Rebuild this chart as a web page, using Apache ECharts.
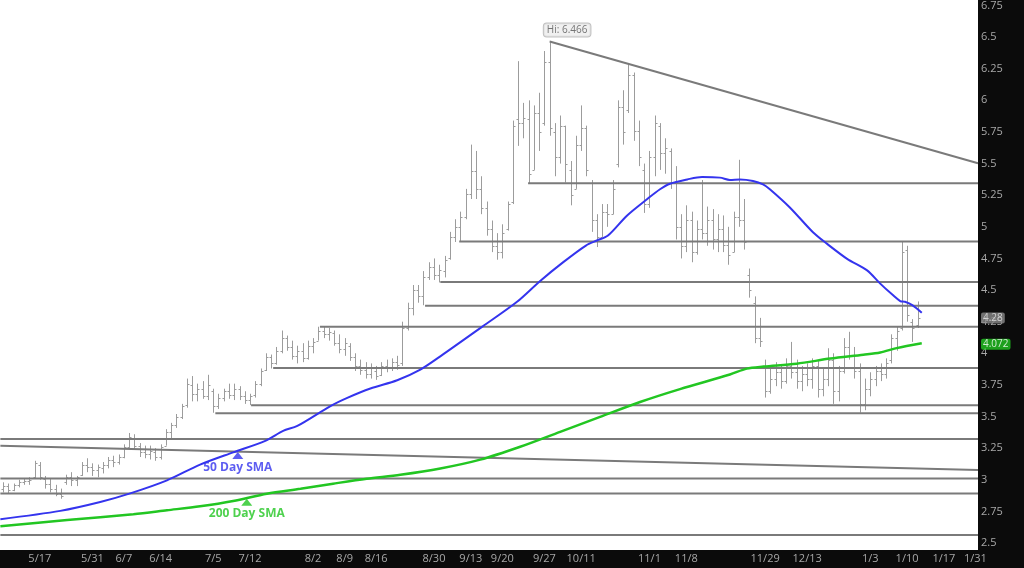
<!DOCTYPE html>
<html><head><meta charset="utf-8">
<script src="https://cdn.jsdelivr.net/npm/echarts@6/dist/echarts.min.js"></script>
<style>html,body{margin:0;padding:0;background:#0b0b0b;}#c{width:1024px;height:568px;}</style>
</head><body><div id="c"></div>
<script>
// ---- data ----
const tickLabels = ['5/17','5/31','6/7','6/14','7/5','7/12','8/2','8/9','8/16','8/30','9/13','9/20','9/27','10/11','11/1','11/8','11/29','12/13','1/3','1/10','1/17','1/31'];
const tickBars   = [7,17,23,30,40,47,59,65,71,82,89,95,103,110,123,130,145,153,165,172,179,185];
const slotCount = 186;

const open = [2.93,2.95,2.92,2.96,2.98,2.99,3.02,3.12,3.01,2.97, 2.93,2.89,2.98,3.02,3.00,3.04,3.12,3.10,3.08,3.09, 3.12,3.16,3.14,3.18,3.26,3.33,3.27,3.22,3.20,3.22, 3.18,3.27,3.38,3.43,3.50,3.59,3.75,3.68,3.72,3.66, 3.70,3.58,3.65,3.70,3.67,3.72,3.66,3.63,3.67,3.76, 3.87,3.97,3.92,4.02,4.12,4.05,3.98,4.02,3.96,4.06, 4.10,4.18,4.15,4.16,4.08,4.03,4.06,3.97,3.90,3.87, 3.84,3.86,3.83,3.90,3.88,3.93,3.92,4.20,4.36,4.50, 4.45,4.60,4.68,4.62,4.65,4.75,4.92,5.00,5.08,5.26, 5.44,5.30,5.15,4.98,4.85,4.80,4.98,5.20,5.85,5.82, 5.85,5.45,5.90,5.82,6.30,5.75,5.55,5.80,5.45,5.30, 5.65,5.78,5.35,5.05,4.92,5.12,5.10,5.50,5.95,5.92, 6.20,5.76,5.45,5.18,5.55,5.80,5.58,5.60,5.35,5.00, 4.85,5.05,4.80,4.98,4.95,5.05,4.90,4.98,4.86,4.80, 5.08,5.05,4.62,4.40,4.12,3.90,3.70,3.80,3.85,3.78, 3.90,3.85,3.78,3.84,3.80,3.90,3.72,3.80,3.95,3.70, 3.86,4.05,3.98,3.86,3.60,3.72,3.80,3.86,3.84,3.95, 4.12,4.20,4.82,4.25,4.22];
const high = [2.98,2.97,2.97,3.00,3.01,3.02,3.15,3.14,3.03,3.01, 2.96,2.93,3.04,3.06,3.03,3.14,3.17,3.13,3.12,3.14, 3.18,3.19,3.20,3.28,3.37,3.36,3.29,3.27,3.27,3.25, 3.28,3.40,3.45,3.52,3.60,3.80,3.82,3.76,3.78,3.83, 3.72,3.68,3.72,3.76,3.76,3.74,3.70,3.68,3.78,3.88, 4.00,3.99,4.05,4.18,4.14,4.10,4.06,4.08,4.10,4.12, 4.21,4.21,4.20,4.18,4.15,4.12,4.08,4.00,3.95,3.93, 3.92,3.90,3.93,3.95,3.96,3.98,4.25,4.40,4.54,4.54, 4.65,4.72,4.75,4.70,4.77,4.96,5.06,5.12,5.30,5.65, 5.60,5.40,5.20,5.05,4.95,5.02,5.20,5.84,6.31,5.98, 6.00,5.96,6.06,6.39,6.466,5.82,5.88,5.80,5.52,5.72, 5.96,5.80,5.37,5.10,5.18,5.18,5.37,6.00,6.08,6.28, 6.22,5.84,5.50,5.60,5.88,5.82,5.70,5.62,5.48,5.10, 5.17,5.12,5.05,5.37,5.16,5.14,5.10,5.09,5.00,5.12, 5.53,5.22,4.67,4.45,4.28,3.95,3.88,3.93,3.90,3.96, 4.09,3.95,3.90,3.92,3.96,3.94,3.88,4.04,4.00,3.90, 4.12,4.17,4.05,3.92,3.80,3.85,3.90,3.92,3.96,4.15, 4.21,4.88,4.85,4.27,4.41];
const low = [2.90,2.89,2.91,2.94,2.96,2.96,3.01,3.00,2.93,2.90, 2.87,2.85,2.96,2.95,2.95,3.03,3.06,3.03,3.02,3.05, 3.09,3.10,3.12,3.17,3.25,3.24,3.18,3.17,3.16,3.15, 3.16,3.27,3.33,3.41,3.48,3.57,3.62,3.62,3.64,3.63, 3.53,3.56,3.62,3.64,3.63,3.63,3.60,3.59,3.65,3.74, 3.86,3.88,3.91,4.00,4.02,3.95,3.92,3.93,3.95,4.00, 4.10,4.12,4.10,4.06,4.00,3.98,3.94,3.86,3.83,3.80, 3.80,3.79,3.82,3.85,3.86,3.87,3.90,4.18,4.30,4.40, 4.38,4.58,4.58,4.56,4.60,4.74,4.88,4.88,5.06,5.22, 5.22,5.10,4.93,4.80,4.74,4.75,4.97,5.18,5.64,5.70, 5.345,5.45,5.60,5.80,5.72,5.40,5.50,5.35,5.17,5.30, 5.60,5.40,4.96,4.84,4.92,5.00,5.10,5.47,5.65,5.90, 5.68,5.48,5.11,5.15,5.40,5.45,5.42,5.30,4.90,4.75, 4.80,4.72,4.78,4.90,4.85,4.82,4.80,4.80,4.70,4.80, 5.00,4.82,4.44,4.08,4.05,3.65,3.68,3.74,3.72,3.76, 3.80,3.72,3.70,3.74,3.72,3.65,3.66,3.74,3.60,3.62, 3.84,3.95,3.80,3.53,3.55,3.66,3.74,3.78,3.80,3.92, 4.02,4.18,4.25,4.09,4.20];
const close = [2.95,2.92,2.96,2.98,2.99,3.00,3.13,3.02,2.97,2.93, 2.89,2.87,3.02,3.00,3.02,3.12,3.10,3.08,3.10,3.12, 3.16,3.14,3.18,3.26,3.34,3.27,3.22,3.20,3.23,3.18, 3.26,3.38,3.43,3.50,3.58,3.76,3.68,3.72,3.66,3.75, 3.58,3.65,3.70,3.67,3.72,3.66,3.63,3.66,3.76,3.86, 3.97,3.92,4.02,4.12,4.05,3.98,4.02,3.96,4.06,4.09, 4.18,4.15,4.17,4.08,4.03,4.08,3.97,3.90,3.87,3.84, 3.88,3.82,3.90,3.88,3.93,3.91,4.20,4.36,4.50,4.45, 4.60,4.68,4.62,4.66,4.74,4.92,5.00,5.08,5.26,5.44, 5.30,5.15,4.98,4.85,4.80,4.95,5.18,5.80,5.82,5.86, 5.42,5.90,5.75,6.30,5.78,5.55,5.80,5.50,5.25,5.65, 5.78,5.45,5.05,4.92,5.12,5.10,5.30,5.95,5.75,6.20, 5.76,5.55,5.18,5.55,5.82,5.58,5.62,5.35,5.00,4.85, 5.05,4.80,4.98,4.95,5.05,4.90,4.98,4.86,4.78,5.08, 5.05,4.88,4.50,4.12,4.10,3.70,3.80,3.85,3.78,3.90, 3.85,3.78,3.84,3.80,3.90,3.72,3.80,3.95,3.70,3.86, 4.05,3.98,3.86,3.60,3.72,3.80,3.86,3.84,3.92,4.12, 4.18,4.80,4.30,4.20,4.28];

// 50-day and 200-day SMA readings: [bar position, value]
const sma50 = [[-0.5,2.688],[10.9,2.754],[18.5,2.824],[24.2,2.892],[31.2,2.995],[37.5,3.120],[43.8,3.217],[49.9,3.308],[53.3,3.387],[56.0,3.426],[62.3,3.583],[65.5,3.648],[69.9,3.722],[75.0,3.787],[79.4,3.871],[83.2,3.976],[91.2,4.211],[97.8,4.407],[102.2,4.572],[106.6,4.721],[110.9,4.852],[113.0,4.892],[115.1,4.931],[118.7,5.088],[122.7,5.224],[125.0,5.297],[126.9,5.341],[130.2,5.375],[133.0,5.394],[136.4,5.389],[138.3,5.371],[140.2,5.375],[142.7,5.363],[144.6,5.336],[145.9,5.297],[149.7,5.153],[154.1,4.957],[156.8,4.865],[160.6,4.747],[164.4,4.656],[166.9,4.551],[169.3,4.460],[170.7,4.413],[171.6,4.407],[173.0,4.381],[174.8,4.321]];
const sma200 = [[-0.5,2.633],[12.2,2.681],[24.8,2.728],[31.2,2.759],[37.5,2.790],[43.8,2.832],[50.2,2.890],[56.6,2.929],[62.8,2.969],[69.2,3.008],[75.6,3.039],[83.2,3.089],[90.8,3.159],[98.4,3.261],[106.0,3.379],[113.6,3.497],[121.2,3.615],[128.8,3.717],[138.3,3.832],[141.5,3.879],[144.7,3.895],[151.0,3.918],[157.4,3.958],[163.7,3.989],[166.9,4.007],[170.0,4.041],[174.8,4.080]];

// support / resistance levels: [value, start position]
const levels = [[5.345,99.9],[4.884,86.8],[4.563,83.2],[4.376,80.3],[4.210,60.3],[3.884,51.4],[3.589,47.2],[3.525,40.4],[3.322,-0.5],[3.010,-0.5],[2.892,-0.5],[2.563,-0.5]];
// trendlines: [[x1,y1],[x2,y2]]
const trendTop = [[104,6.466],[185.5,5.503]];
const trendLow = [[-0.5,3.269],[185.5,3.077]];

const hiPoint = [104, 6.466];
const lastClose = 4.28;
const lastSma200 = 4.072;
const sma50Marker = [44.67, 3.191];
const sma200Marker = [46.38, 2.822];

// ---- chart ----
const categories = Array.from({length: slotCount}, () => '');
tickBars.forEach((b, k) => { categories[b] = tickLabels[k]; });
const ohlc = open.map((o, i) => [i, o, close[i], low[i], high[i]]);

const BLUE = '#3434ee', GREEN = '#22c622', GRAY = '#7a7a7a';
const chart = echarts.init(document.getElementById('c'));
const series = [];

series.push({
  type: 'custom', xAxisIndex: 0, yAxisIndex: 0, data: ohlc, z: 2,
  encode: { x: 0, y: [1, 2, 3, 4] },
  renderItem: function (params, api) {
    const x = api.value(0);
    const o = api.coord([x, api.value(1)]);
    const c = api.coord([x, api.value(2)]);
    const l = api.coord([x, api.value(3)]);
    const h = api.coord([x, api.value(4)]);
    const px = Math.round(h[0]) + 0.5;
    const st = { stroke: '#9c9c9c', lineWidth: 1 };
    return { type: 'group', children: [
      { type: 'line', shape: { x1: px, y1: h[1], x2: px, y2: l[1] }, style: st },
      { type: 'line', shape: { x1: px - 2, y1: Math.round(o[1]) + 0.5, x2: px, y2: Math.round(o[1]) + 0.5 }, style: st },
      { type: 'line', shape: { x1: px, y1: Math.round(c[1]) + 0.5, x2: px + 2, y2: Math.round(c[1]) + 0.5 }, style: st }
    ]};
  }
});

levels.forEach(lv => {
  series.push({ type: 'line', xAxisIndex: 1, yAxisIndex: 0, symbol: 'none', z: 3, silent: true,
    data: [[lv[1], lv[0]], [185.5, lv[0]]], lineStyle: { color: GRAY, width: 2 } });
});
[trendTop, trendLow].forEach(t => {
  series.push({ type: 'line', xAxisIndex: 1, yAxisIndex: 0, symbol: 'none', z: 3, silent: true,
    data: t, lineStyle: { color: GRAY, width: 2 } });
});

series.push({ type: 'line', xAxisIndex: 1, yAxisIndex: 0, symbol: 'none', z: 4, smooth: 0.3,
  data: sma200, lineStyle: { color: GREEN, width: 2.5 } });
series.push({ type: 'line', xAxisIndex: 1, yAxisIndex: 0, symbol: 'none', z: 5, smooth: 0.3,
  data: sma50, lineStyle: { color: BLUE, width: 2 } });

// annotations
series.push({ type: 'scatter', xAxisIndex: 1, yAxisIndex: 0, z: 6, clip: false, silent: true,
  data: [
    { value: sma50Marker, symbol: 'triangle', symbolSize: [11, 7], itemStyle: { color: BLUE },
      label: { show: true, position: 'bottom', distance: 2, formatter: '50 Day SMA', color: BLUE, fontWeight: 'bold', fontSize: 12, fontFamily: 'Open Sans' } },
    { value: sma200Marker, symbol: 'triangle', symbolSize: [11, 7], itemStyle: { color: GREEN },
      label: { show: true, position: 'bottom', distance: 2, formatter: '200 Day SMA', color: GREEN, fontWeight: 'bold', fontSize: 12, fontFamily: 'Open Sans' } },
    { value: hiPoint, symbolSize: 0,
      label: { show: true, position: 'top', distance: 5, offset: [17.5, 0], formatter: 'Hi: ' + hiPoint[1], color: '#555', fontSize: 10, fontFamily: 'Open Sans',
        backgroundColor: '#ececec', borderColor: '#b0b0b0', borderWidth: 1, borderRadius: 3, padding: [2, 3, 1, 3] } },
    { value: [185.5, lastClose], symbolSize: 0,
      label: { show: true, position: 'right', distance: 3, formatter: String(lastClose), color: '#e6e6e6', fontSize: 10, fontFamily: 'Open Sans',
        backgroundColor: '#8a8a8a', borderRadius: 2, padding: [1, 2, 0, 2] } },
    { value: [185.5, lastSma200], symbolSize: 0,
      label: { show: true, position: 'right', distance: 3, formatter: String(lastSma200), color: '#ffffff', fontSize: 10, fontFamily: 'Open Sans',
        backgroundColor: GREEN, borderRadius: 2, padding: [1, 2, 0, 2] } }
  ]
});

chart.setOption({
  animation: false,
  backgroundColor: '#0b0b0b',
  graphic: [{ type: 'rect', shape: { x: 0, y: 0, width: 978, height: 550 }, style: { fill: '#ffffff' }, z: -10, silent: true }],
  grid: { left: 0, right: 46, top: 1.5, bottom: 25, containLabel: false },
  xAxis: [
    { type: 'category', data: categories, boundaryGap: true,
      axisLine: { show: false }, axisTick: { show: false }, splitLine: { show: false },
      axisLabel: { interval: 0, margin: 10, color: '#a8a8a8', fontSize: 11, fontFamily: 'Open Sans' } },
    { type: 'value', min: -0.5, max: 185.5, show: false }
  ],
  yAxis: [{ type: 'value', position: 'right', min: 2.5, max: 6.75, interval: 0.25,
    axisLine: { show: false }, axisTick: { show: false }, splitLine: { show: false },
    axisLabel: { margin: 3, color: '#a8a8a8', fontSize: 11, fontFamily: 'Open Sans' } }],
  series: series
});
</script></body></html>
